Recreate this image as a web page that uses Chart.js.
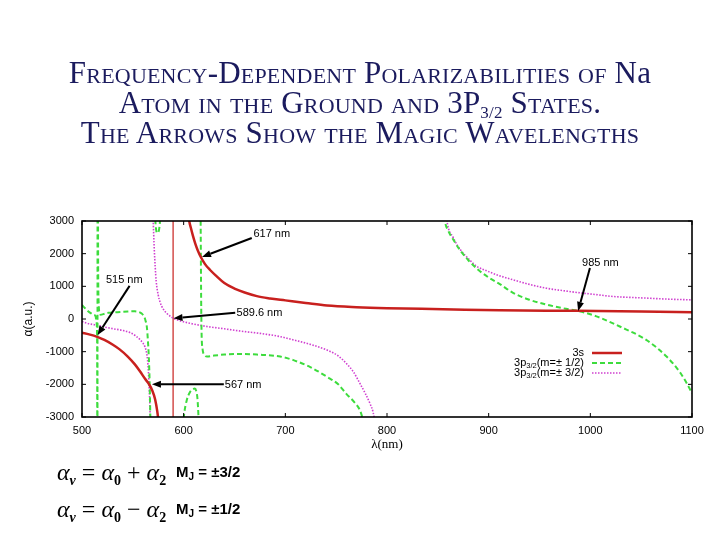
<!DOCTYPE html>
<html>
<head>
<meta charset="utf-8">
<script src="https://cdn.jsdelivr.net/npm/chart.js@4.4.1/dist/chart.umd.min.js"></script>
<style>
  body { margin: 0; background: #fff; }
  #wrap { position: relative; width: 720px; height: 540px; overflow: hidden; }
  #graph { position: absolute; left: 0; top: 0; }
  #title { position: absolute; left: 0; top: 58px; width: 720px; text-align: center;
           font-family: "Liberation Serif", serif; font-variant: small-caps; font-size: 31px;
           line-height: 30px; color: #1b1b5e; letter-spacing: 0.2px; }
  #title sub { font-size: 17px; vertical-align: -5px; line-height: 0; }
  #title .lc { font-variant: normal; }
  .formula { position: absolute; left: 57px; font-family: "Liberation Serif", serif; font-size: 24px; line-height: 28px; }
  .formula sub { font-size: 14px; vertical-align: -5px; line-height: 0; font-weight: bold; }
  .mj { position: absolute; left: 176px; font-family: "Liberation Sans", Arial, sans-serif; font-weight: bold; font-size: 15px; line-height: 18px; }
  .mj sub { font-size: 10px; vertical-align: -3px; line-height: 0; }
</style>
</head>
<body>
<div id="wrap">
  <canvas id="graph" width="720" height="540"></canvas>
  <div id="title">
    Frequency-Dependent Polarizabilities of N<span class="lc">a</span><br>
    Atom in the Ground and 3P<sub>3/2</sub> States.<br>
    The Arrows Show the Magic Wavelengths
  </div>
  <div class="formula" style="top:458px"><i>α</i><sub><i>ν</i></sub> = <i>α</i><sub>0</sub> + <i>α</i><sub>2</sub></div>
  <div class="mj" style="top:463px">M<sub>J</sub> = ±3/2</div>
  <div class="formula" style="top:495px"><i>α</i><sub><i>ν</i></sub> = <i>α</i><sub>0</sub> − <i>α</i><sub>2</sub></div>
  <div class="mj" style="top:500px">M<sub>J</sub> = ±1/2</div>
</div>
<script>
// valores: [lambda (nm), alpha (u.a.)], null = corte en un polo
const xTicks = [500, 600, 700, 800, 900, 1000, 1100];
const yTicks = [-3000, -2000, -1000, 0, 1000, 2000, 3000];

const state3s = [
  [500, -420], [507, -470], [515, -545], [522, -640], [530, -780], [537, -930], [545, -1150],
  [552, -1390], [557, -1600], [562, -1830], [566, -2000], [569, -2180], [572, -2470],
  [574, -2820], [575.5, -3200], [577, -3700], [590, null],
  [603.5, 3600], [605.5, 3000], [607, 2800], [609, 2560], [611.5, 2300], [614, 2090],
  [617, 1890], [621, 1680], [626, 1500], [632, 1320], [640, 1100], [650, 930], [660, 810],
  [672, 700], [685, 630], [700, 570], [720, 490], [741, 410], [770, 360], [800, 330],
  [855, 300], [911, 265], [986, 250], [1050, 230], [1100, 210]
];
const pole3s = [[589.6, -3000], [589.6, 3000]];

const state3pM12 = [
  [500, 430], [503, 330], [506, 240], [509, 170], [511.5, 125], [513.3, 90], [514.3, -100],
  [514.9, -800], [515.15, -9000], [515.35, 9000], [515.9, 1500], [516.4, 500], [517, 200],
  [518.5, 130], [521, 150], [526, 190], [535, 210], [545, 230], [552, 235], [556, 215],
  [559, 160], [561, 80], [562.5, -50], [563.8, -250], [564.8, -650], [565.7, -1150],
  [566.5, -1900], [567.4, -3300], [568, null],
  [571.6, 3300], [572.5, 2850], [573.7, 2640], [575, 2650], [576.3, 2850], [577.4, 3300], [578, null],
  [599.3, -3300], [600.5, -2900], [603, -2490], [606, -2250], [608.5, -2160], [611, -2130],
  [612.5, -2220], [613.6, -2450], [614.6, -3000], [615.3, -3500], [616, null],
  [616.6, 3500], [616.9, 2000], [617.2, 600], [617.6, -400], [618.5, -900], [620.5, -1100],
  [623, -1150], [630, -1120], [640, -1090], [656, -1070], [672, -1090], [695, -1150],
  [708, -1260], [725, -1480], [741, -1770], [752, -2000], [760, -2290], [768, -2550],
  [773.5, -2800], [777.5, -3200], [800, null],
  [855.8, 3400], [857, 3000], [860, 2720], [865, 2440], [872, 2100], [880, 1800], [890, 1500],
  [900, 1270], [911, 1070], [924, 800], [940, 590], [957, 440], [973, 330], [988, 248],
  [1006, 80], [1029, -230], [1055, -640], [1075, -1150], [1089, -1670], [1098.5, -2180], [1100, -2280]
];

const state3pM32 = [
  [500, -80], [505, -130], [510, -165], [515, -190], [522, -245], [531, -300], [540, -350],
  [547.5, -420], [553, -520], [557.3, -640], [560, -740], [562, -860], [563.5, -1030],
  [564.5, -1260], [565.3, -1600], [565.9, -1980], [566.6, -2500], [567.3, -3300], [568, null],
  [569.3, 3400], [570, 3000], [571.1, 2130], [572, 1600], [573, 1150], [575, 730], [577, 500],
  [580, 300], [583.5, 170], [587, 80], [590, 20], [595, -40], [606, -130], [623, -230],
  [640, -300], [656, -370], [675, -440], [695, -540], [708, -640], [725, -780], [741, -950],
  [752, -1130], [760, -1360], [767, -1620], [773.5, -1980], [779, -2300], [783.3, -2590],
  [786.3, -2850], [789, -3300], [820, null],
  [857.8, 3400], [859, 3000], [865, 2500], [872, 2130], [880, 1850], [888, 1620], [900, 1450],
  [911, 1320], [924, 1200], [940, 1060], [957, 940], [975, 860], [990, 800], [1005, 750],
  [1022, 690], [1040, 660], [1055, 640], [1075, 610], [1100, 585]
];

// longitudes de onda mágicas: etiqueta, punta y cola de la flecha, posición del texto
const magicLabels = ['617 nm', '515 nm', '589.6 nm', '567 nm', '985 nm'];
const magicTips = [[618, 1900], [515.3, -490], [590, 20], [568.8, -2000], [988, 246]];
const magicTails = [[667, 2480], [546.8, 1015], [650.7, 195], [639.5, -2000], [999.6, 1560]];
const magicText = [[668.6, 2590, 'left'], [541.6, 1210, 'center'], [652, 185, 'left'], [640.5, -2015, 'left'], [1009.9, 1714, 'center']];

const sans = '"Liberation Sans", Arial, sans-serif';
const toXY = arr => arr.map(([x, y]) => ({ x: x, y: y }));

const red = '#c8201e', green = '#3ddc3d', magenta = '#d040d0';

// Dibuja marco, marcas interiores, flechas y leyenda
const decor = {
  id: 'decor',
  afterDatasetsDraw(chart) {
    const ctx = chart.ctx;
    const a = chart.chartArea;
    const xs = chart.scales.x, ys = chart.scales.y;
    const seg = (x1, y1, x2, y2) => { ctx.beginPath(); ctx.moveTo(x1, y1); ctx.lineTo(x2, y2); ctx.stroke(); };
    ctx.save();
    ctx.strokeStyle = '#000';
    ctx.lineWidth = 1.6;
    ctx.strokeRect(a.left, a.top, a.right - a.left, a.bottom - a.top);
    ctx.lineWidth = 1;
    xTicks.forEach(v => {
      const px = xs.getPixelForValue(v);
      seg(px, a.bottom, px, a.bottom - 4);
      seg(px, a.top, px, a.top + 4);
    });
    yTicks.forEach(v => {
      const py = ys.getPixelForValue(v);
      seg(a.left, py, a.left + 4, py);
      seg(a.right, py, a.right - 4, py);
    });

    // flechas
    ctx.fillStyle = '#000';
    ctx.lineWidth = 2;
    magicLabels.forEach((txt, i) => {
      const tx = xs.getPixelForValue(magicTips[i][0]), ty = ys.getPixelForValue(magicTips[i][1]);
      const sx = xs.getPixelForValue(magicTails[i][0]), sy = ys.getPixelForValue(magicTails[i][1]);
      const ang = Math.atan2(ty - sy, tx - sx);
      const len = 9, hw = 3.5;
      const bx = tx - len * Math.cos(ang), by = ty - len * Math.sin(ang);
      seg(sx, sy, bx, by);
      ctx.beginPath();
      ctx.moveTo(tx, ty);
      ctx.lineTo(bx + hw * Math.sin(ang), by - hw * Math.cos(ang));
      ctx.lineTo(bx - hw * Math.sin(ang), by + hw * Math.cos(ang));
      ctx.closePath();
      ctx.fill();
      ctx.font = '11px ' + sans;
      ctx.textAlign = magicText[i][2];
      ctx.textBaseline = 'middle';
      ctx.fillText(txt, xs.getPixelForValue(magicText[i][0]), ys.getPixelForValue(magicText[i][1]));
    });

    // leyenda
    const xr = a.right - 108;
    const rows = [a.bottom - 64, a.bottom - 54, a.bottom - 44];
    const tails = ['', '(m=± 1/2)', '(m=± 3/2)'];
    ctx.textBaseline = 'middle';
    ctx.textAlign = 'left';
    chart.data.datasets.slice(0, 3).forEach((ds, i) => {
      const y = rows[i];
      let parts;
      if (i === 0) parts = [['3s', 11, 0]];
      else parts = [['3p', 11, 0], ['3/2', 7.5, 3], [tails[i], 11, 0]];
      let w = 0;
      parts.forEach(p => { ctx.font = p[1] + 'px ' + sans; w += ctx.measureText(p[0]).width; });
      let x = xr - w;
      parts.forEach(p => {
        ctx.font = p[1] + 'px ' + sans;
        ctx.fillText(p[0], x, y + p[2]);
        x += ctx.measureText(p[0]).width;
      });
      ctx.strokeStyle = ds.borderColor;
      ctx.lineWidth = ds.borderWidth;
      ctx.setLineDash(ds.borderDash || []);
      seg(xr + 8, y, xr + 38, y);
      ctx.setLineDash([]);
    });
    ctx.restore();
  }
};

new Chart(document.getElementById('graph').getContext('2d'), {
  type: 'line',
  data: {
    datasets: [
      { label: '3s', data: toXY(state3s), borderColor: red, borderWidth: 2.5 },
      { label: '3p3/2(m=± 1/2)', data: toXY(state3pM12), borderColor: green, borderWidth: 2, borderDash: [5, 3] },
      { label: '3p3/2(m=± 3/2)', data: toXY(state3pM32), borderColor: magenta, borderWidth: 1.6, borderDash: [1.5, 1.5] },
      { label: 'polo', data: toXY(pole3s), borderColor: red, borderWidth: 1.2 }
    ]
  },
  options: {
    responsive: false,
    animation: false,
    layout: { padding: { left: 0, top: 221, right: 28, bottom: 83 } },
    elements: { point: { radius: 0 }, line: { cubicInterpolationMode: 'monotone' } },
    plugins: { legend: { display: false }, tooltip: { enabled: false } },
    scales: {
      x: {
        type: 'linear', min: 500, max: 1100,
        afterBuildTicks: s => { s.ticks = xTicks.map(v => ({ value: v })); },
        afterFit: s => { s.height = 40; },
        grid: { display: false, drawTicks: false },
        border: { display: false },
        ticks: { padding: 7, color: '#000', maxRotation: 0, font: { size: 11, family: sans }, callback: v => String(v) },
        title: { display: true, text: 'λ(nm)', color: '#000', font: { size: 13, family: '"Liberation Serif", serif' }, padding: { top: 0, bottom: 5 } }
      },
      y: {
        min: -3000, max: 3000,
        afterBuildTicks: s => { s.ticks = yTicks.map(v => ({ value: v })); },
        afterFit: s => { s.width = 82; },
        grid: { display: false, drawTicks: false },
        border: { display: false },
        ticks: { padding: 8, color: '#000', font: { size: 11, family: sans }, callback: v => String(v) },
        title: { display: true, text: 'α(a.u.)', color: '#000', font: { size: 12, family: sans }, padding: { top: 21, bottom: 0 } }
      }
    }
  },
  plugins: [decor]
});
</script>
</body>
</html>
